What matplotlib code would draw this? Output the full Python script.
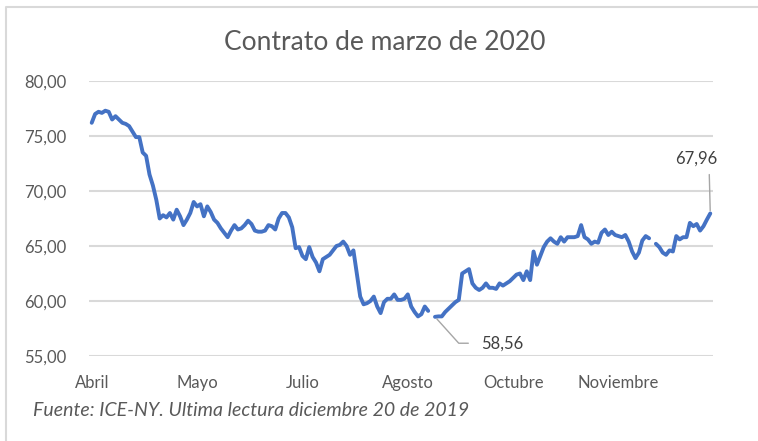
import numpy as np
import matplotlib
matplotlib.use('Agg')
import matplotlib.pyplot as plt
from matplotlib.lines import Line2D

# Data (daily closes, gaps = missing days)
nan = np.nan
precios = [
    76.2, 77.0, 77.2, 77.1, 77.3, 77.2, 76.5, 76.8, 76.5, 76.2,
    76.1, 75.9, 75.4, 74.9, 74.9, 73.5, 73.2, 71.5, 70.5, 69.2,
    67.5, 67.8, 67.6, 68.0, 67.4, 68.3, 67.7, 66.9, 67.4, 68.0,
    69.0, 68.6, 68.8, 67.7, 68.6, 68.1, 67.4, 67.1, 66.6, 66.2,
    65.8, 66.4, 66.9, 66.5, 66.6, 66.9, 67.3, 67.0, 66.4, 66.3,
    66.3, 66.4, 66.9, 66.8, 66.5, 67.5, 68.0, 68.0, 67.6, 66.7,
    64.8, 64.9, 64.1, 63.8, 64.9, 64.0, 63.5, 62.7, 63.8, 64.0,
    64.2, 64.6, 65.0, 65.1, 65.4, 65.0, 64.2, 64.6, 62.5, 60.4,
    59.7, 59.8, 60.0, 60.4, 59.5, 58.9, 59.9, 60.2, 60.2, 60.6,
    60.1, 60.1, 60.2, 60.6, 59.5, 59.0, 58.6, 58.8, 59.5, 59.1,
    nan, 58.56, 58.6, 58.6, 59.0, 59.3, 59.6, 59.9, 60.1, 62.5,
    62.7, 62.9, 61.6, 61.2, 61.0, 61.2, 61.6, 61.2, 61.2, 61.1,
    61.6, 61.4, 61.6, 61.8, 62.1, 62.4, 62.5, 61.9, 62.7, 61.9,
    64.5, 63.3, 64.1, 64.9, 65.4, 65.7, 65.4, 65.2, 65.8, 65.4,
    65.8, 65.8, 65.8, 65.9, 66.9, 65.8, 65.6, 65.2, 65.4, 65.3,
    66.2, 66.5, 66.0, 66.3, 66.0, 65.9, 65.8, 66.0, 65.4, 64.5,
    63.9, 64.4, 65.5, 65.9, 65.7, nan, 65.2, 64.9, 64.4, 64.2,
    64.6, 64.5, 65.9, 65.6, 65.8, 65.8, 67.1, 66.8, 67.0, 66.4,
    66.8, 67.4, 67.96,
]
meses = ['Abril', 'Mayo', 'Julio', 'Agosto', 'Octubre', 'Noviembre']
paso_meses = 31
yticks = [55, 60, 65, 70, 75, 80]

plt.rcParams['font.family'] = ['Lato', 'DejaVu Sans']
gris = '#595959'

fig = plt.figure(figsize=(7.58, 4.41), dpi=100)
ax = fig.add_axes([89/758, 1-356/441, (713-89)/758, (356-81)/441])

x = np.arange(len(precios))
y = np.array(precios, dtype=float)
ax.plot(x, y, color='#4472C4', lw=2.8, solid_joinstyle='round', solid_capstyle='round')

ax.set_ylim(55, 80)
ax.set_xlim(-0.8, len(precios) - 0.2)
ax.set_yticks(yticks)
ax.set_yticklabels([f'{v:.2f}'.replace('.', ',') for v in yticks], color=gris, fontsize=12)
ax.set_xticks(np.arange(len(meses)) * paso_meses)
ax.set_xticklabels(meses, color=gris, fontsize=12)
ax.tick_params(length=0, pad=16, axis='y')
ax.tick_params(length=0, pad=14, axis='x')
ax.grid(axis='y', color='#d9d9d9', lw=1.5)
ax.set_axisbelow(True)
for s in ax.spines.values():
    s.set_visible(False)

fig.text(385/758, 1-42/441, 'Contrato de marzo de 2020', fontsize=19, color=gris,
         ha='center', va='center')

# last value and minimum labels
i_last = len(precios) - 1
ax.annotate(f'{y[i_last]:.2f}'.replace('.', ','), xy=(i_last, y[i_last]),
            xytext=(-10, 34), textcoords='offset points', fontsize=12, color='#404040',
            ha='center', va='bottom',
            arrowprops=dict(arrowstyle='-', color='#a6a6a6', lw=1,
                            relpos=(0.8, 0), shrinkA=4, shrinkB=2))
i_min = int(np.nanargmin(y))
ax.annotate(f'{y[i_min]:.2f}'.replace('.', ','), xy=(i_min, y[i_min]),
            xytext=(33, -19), textcoords='offset points', fontsize=12, color='#404040',
            ha='left', va='center',
            arrowprops=dict(arrowstyle='-', color='#a6a6a6', lw=1, relpos=(0, 0.5),
                            connectionstyle='angle,angleA=0,angleB=-48,rad=0',
                            shrinkA=7, shrinkB=2))

fig.text(33/758, 1-411/441, 'Fuente: ICE-NY. Ultima lectura diciembre 20 de 2019',
         fontsize=14, style='italic', color=gris, va='center', ha='left')

# chart frame (top and left edges visible)
fig.add_artist(Line2D([6/758, 6/758, 1], [0, 1-7/441, 1-7/441],
                      transform=fig.transFigure, color='#d9d9d9', lw=1.5))

fig.savefig('out.png', dpi=100)
